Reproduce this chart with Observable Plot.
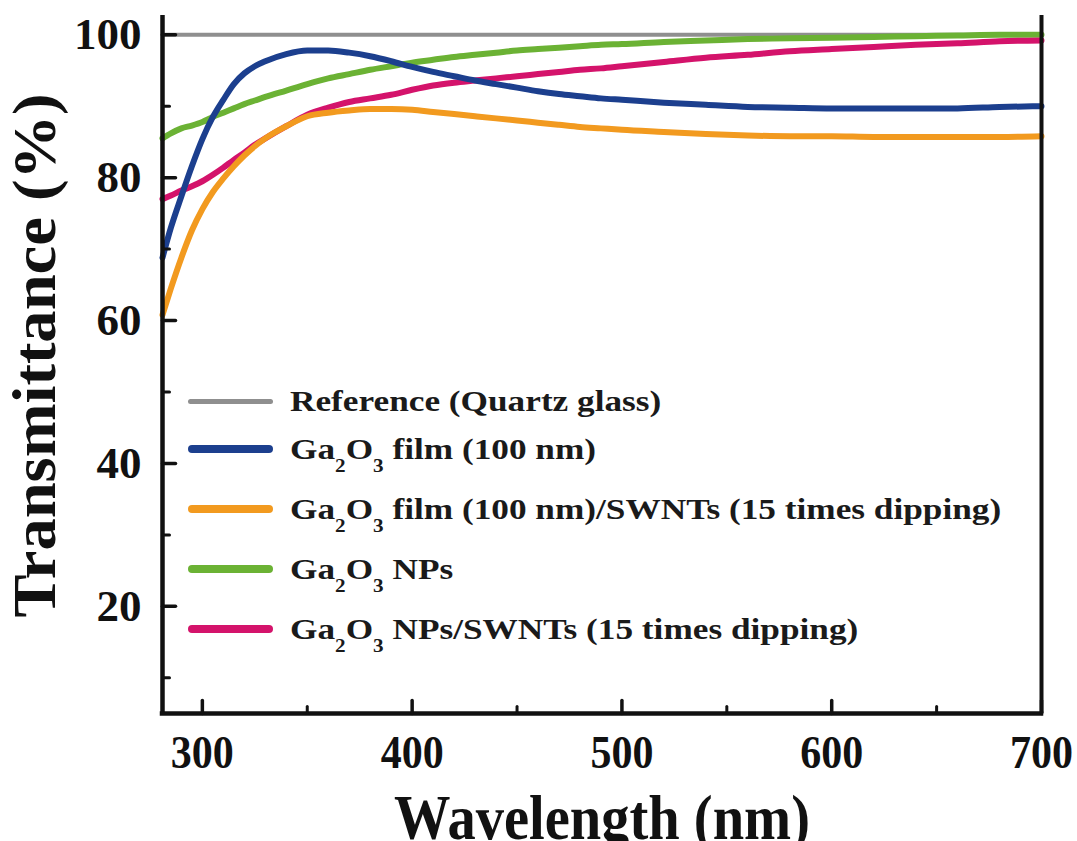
<!DOCTYPE html>
<html><head><meta charset="utf-8">
<script src="https://cdn.jsdelivr.net/npm/d3@7"></script>
<script src="https://cdn.jsdelivr.net/npm/@observablehq/plot@0.6"></script>
<style>
html,body{margin:0;padding:0;background:#fff;}
#wrap{position:relative;width:1077px;height:841px;overflow:hidden;}
#legend{position:absolute;left:188px;top:383px;font-family:"Liberation Serif","Times New Roman",serif;font-weight:bold;font-size:30px;color:#1a1a1a;}
.row{position:relative;display:flex;align-items:center;height:60px;}
.row:first-child{height:36px;}
.sw{width:85px;height:8px;border-radius:4px;margin-right:17px;flex:none;}
.txt{display:inline-block;line-height:36px;height:36px;white-space:nowrap;transform:scaleX(1.175);transform-origin:left center;}
.txt sub{font-size:18px;position:relative;top:13px;vertical-align:baseline;line-height:0;}
</style>
</head>
<body>
<div id="wrap"><div id="chart"></div><div id="legend"></div></div>
<script>
// ---- data ----
const wavelength = [281,285,290,295,300,305,310,315,320,325,330,340,350,360,370,380,390,400,410,420,430,440,450,460,470,480,490,500,520,540,560,580,600,620,640,660,680,700];
const filmT = [68.8,73.0,77.4,81.6,85.4,88.5,90.9,93.1,94.6,95.6,96.3,97.3,97.8,97.8,97.5,97.0,96.3,95.5,94.8,94.2,93.6,93.1,92.6,92.1,91.7,91.4,91.1,90.9,90.5,90.2,89.9,89.8,89.7,89.7,89.7,89.7,89.9,90.0];
const filmSwntT = [60.8,64.5,68.8,72.6,75.6,78.0,79.9,81.6,83.1,84.4,85.5,87.2,88.6,89.1,89.4,89.6,89.6,89.5,89.2,88.9,88.6,88.3,88.0,87.7,87.4,87.1,86.9,86.7,86.4,86.1,85.9,85.8,85.8,85.7,85.7,85.7,85.7,85.8];
const npT = [85.5,86.2,86.9,87.3,87.8,88.5,89.1,89.7,90.3,90.8,91.3,92.2,93.1,93.9,94.5,95.1,95.6,96.1,96.5,96.9,97.2,97.5,97.8,98.0,98.2,98.4,98.6,98.7,99.0,99.2,99.4,99.5,99.6,99.7,99.8,99.9,100.0,100.0];
const npSwntT = [77.0,77.5,78.2,78.8,79.5,80.4,81.4,82.5,83.5,84.6,85.5,87.2,88.8,89.8,90.6,91.1,91.6,92.3,92.9,93.3,93.6,93.9,94.2,94.5,94.8,95.1,95.3,95.6,96.2,96.8,97.2,97.7,98.0,98.3,98.6,98.8,99.1,99.2];
const refWavelength = [281, 700];
const refT = [100, 100];

const seriesNames = ["Reference (Quartz glass)", "Ga2O3 film (100 nm)", "Ga2O3 film (100 nm)/SWNTs (15 times dipping)", "Ga2O3 NPs", "Ga2O3 NPs/SWNTs (15 times dipping)"];
const seriesColors = ["#8f8f8f", "#1c3f8e", "#f29a1f", "#6bb234", "#d4136b"];

const xMajorTicks = [300, 400, 500, 600, 700];
const xMinorTicks = [350, 450, 550, 650];
const yMajorTicks = [20, 40, 60, 80, 100];
const yMinorTicks = [10, 30, 50, 70, 90];
const xDomain = [281, 700];
const yDomain = [5, 102.7];
const xTitle = "Wavelength (nm)";
const yTitle = "Transmittance (%)";

// ---- build table ----
const seriesValues = [filmT, filmSwntT, npT, npSwntT];
const rows = [];
seriesValues.forEach((vals, s) => vals.forEach((v, i) => rows.push({series: seriesNames[s + 1], wavelength: wavelength[i], T: v})));
const refRows = refT.map((v, i) => ({series: seriesNames[0], wavelength: refWavelength[i], T: v}));
const drawOrder = [seriesNames[3], seriesNames[4], seriesNames[2], seriesNames[1]];

const tickShape = {draw(context, l) { context.moveTo(0, 0); context.lineTo(0, -l); }};
const font = "Liberation Serif, Times New Roman, serif";

const plot = Plot.plot({
  width: 1077, height: 841,
  marginLeft: 162, marginRight: 36, marginTop: 15, marginBottom: 128,
  x: {domain: xDomain},
  y: {domain: yDomain},
  color: {domain: seriesNames, range: seriesColors},
  style: {fontFamily: font, background: "white", color: "#111"},
  marks: [
    Plot.line(refRows, {x: "wavelength", y: "T", stroke: "series", strokeWidth: 4}),
    ...drawOrder.map(name => Plot.line(rows.filter(d => d.series === name), {x: "wavelength", y: "T", stroke: "series", strokeWidth: 6, curve: "monotone-x"})),
    Plot.ruleX([xDomain[0]], {stroke: "#111", strokeWidth: 4.5}),
    Plot.ruleX([xDomain[1]], {stroke: "#111", strokeWidth: 4}),
    Plot.ruleY([yDomain[0]], {stroke: "#111", strokeWidth: 4.5, strokeLinecap: "square"}),
    Plot.vector(xMajorTicks, {x: d => d, frameAnchor: "bottom", length: 13, anchor: "start", rotate: 0, shape: tickShape, stroke: "#111", strokeWidth: 3.5}),
    Plot.vector(xMinorTicks, {x: d => d, frameAnchor: "bottom", length: 7, anchor: "start", rotate: 0, shape: tickShape, stroke: "#111", strokeWidth: 3}),
    Plot.vector(yMajorTicks, {y: d => d, frameAnchor: "left", length: 13, anchor: "start", rotate: 90, shape: tickShape, stroke: "#111", strokeWidth: 3.5}),
    Plot.vector(yMinorTicks, {y: d => d, frameAnchor: "left", length: 7, anchor: "start", rotate: 90, shape: tickShape, stroke: "#111", strokeWidth: 3}),
    Plot.axisX({ticks: xMajorTicks, tickSize: 0, tickPadding: 21, fontSize: 47, fontWeight: "bold", label: null, tickFormat: d => String(d)}),
    Plot.axisY({ticks: yMajorTicks, tickSize: 0, tickPadding: 21, fontSize: 45, fontWeight: "bold", label: null, tickFormat: d => String(d)}),
    Plot.text([yTitle], {text: d => d, frameAnchor: "left", rotate: -90, dx: -108, dy: -9, fontSize: 62, fontWeight: "bold", textAnchor: "middle", lineAnchor: "bottom", fill: "#111"}),
    Plot.text([xTitle], {text: d => d, frameAnchor: "bottom", dy: 125, fontSize: 64, fontWeight: "bold", textAnchor: "middle", lineAnchor: "bottom", fill: "#111"})
  ]
});
document.getElementById("chart").appendChild(plot);

// condense the axis titles like the reference lettering
d3.select(plot).selectAll("text").each(function () {
  const t = this.textContent;
  if (t === xTitle) d3.select(this).attr("textLength", 416).attr("lengthAdjust", "spacingAndGlyphs");
  if (t === yTitle) d3.select(this).attr("textLength", 524).attr("lengthAdjust", "spacingAndGlyphs");
});
d3.select(plot).selectAll("g[aria-label='x-axis tick label'] text").attr("textLength", 63).attr("lengthAdjust", "spacingAndGlyphs");

// ---- legend overlay ----
const legend = d3.select("#legend");
seriesNames.forEach((name, i) => {
  const row = legend.append("div").attr("class", "row");
  row.append("div").attr("class", "sw").style("background", seriesColors[i]).style("height", i === 0 ? "5px" : "8px");
  const txt = row.append("span").attr("class", "txt");
  const parts = name.split(/(Ga2O3)/);
  parts.forEach(p => {
    if (p === "Ga2O3") {
      txt.append("span").text("Ga");
      txt.append("sub").text("2");
      txt.append("span").text("O");
      txt.append("sub").text("3");
    } else if (p) {
      txt.append("span").text(p);
    }
  });
});
</script>
</body></html>
